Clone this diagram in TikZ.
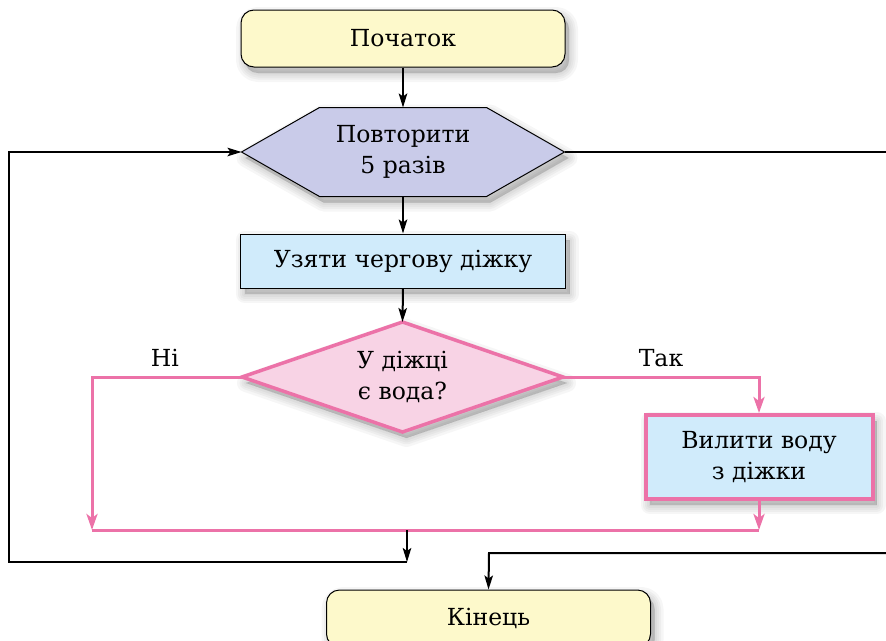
\documentclass[tikz,border=0pt]{standalone}
\usepackage{fontspec}
\setmainfont{DejaVu Serif}
\usetikzlibrary{arrows.meta}
\definecolor{cyellow}{HTML}{FDF9CB}
\definecolor{clav}{HTML}{C9CBE9}
\definecolor{cblue}{HTML}{D0EBFB}
\definecolor{cpinkfill}{HTML}{F8D3E5}
\definecolor{cpink}{HTML}{EC72A8}
\tikzset{
  txt/.style={font=\fontsize{23.5}{31}\selectfont, align=center},
  shl/.style={preaction={draw=black, fill=black, opacity=0.035, line width=#1, line join=round,
      transform canvas={shift={(4pt,-6pt)}}}},
  shad/.style={shl=18pt, shl=13pt, shl=9pt, shl=5pt, shl=1pt},
  term/.style={txt, draw=black, line width=1pt, fill=cyellow, rounded corners=13pt,
    minimum width=324pt, minimum height=57pt, inner sep=0pt, shad},
  ghost/.style={txt, inner sep=0pt, outer sep=0pt},
  proc/.style={txt, draw=black, line width=1pt, fill=cblue, minimum width=325pt,
    minimum height=54pt, inner sep=0pt, shad},
  pproc/.style={txt, draw=cpink, line width=4pt, fill=cblue, minimum width=227pt,
    minimum height=84pt, inner sep=0pt, outer sep=2pt, shad},
  blk/.style={draw=black, line width=2pt},
  pnk/.style={draw=cpink, line width=3pt},
  arr/.style={-{Stealth[length=14pt,width=8.5pt,inset=3pt]}},
  parr/.style={-{Stealth[length=16pt,width=11pt,inset=4pt]}},
  lbl/.style={font=\fontsize{23.5}{27}\selectfont}
}
\begin{document}
\begin{tikzpicture}[x=1pt,y=-1pt]
\useasboundingbox (0,0) rectangle (886,640);
\clip (0,0) rectangle (886,640);
% hexagon shape
\path[fill=clav, draw=black, line width=1pt, shad] (241.5,152) -- (319.5,107.5) -- (486.5,107.5) -- (564.5,152) -- (486.5,196.5) -- (319.5,196.5) -- cycle;
% diamond shape
\path[fill=cpinkfill, draw=cpink, line width=3.5pt, line join=miter, shad] (242,377) -- (402.5,322) -- (563,377) -- (402.5,432) -- cycle;
\node[term] (start) at (403,38.5) {Початок};
\node[ghost, minimum width=323pt, minimum height=89pt] (loop) at (403,152) {Повторити\\5 разів};
\node[proc] (take) at (403,261) {Узяти чергову діжку};
\node[ghost, minimum width=321pt, minimum height=110pt] (cond) at (402.5,377) {У діжці\\є вода?};
\node[pproc] (pour) at (759,457) {Вилити воду\\з діжки};
\node[term] (stop) at (488.5,618.5) {Кінець};
\node[lbl] (no) at (165,358) {Ні};
\node[lbl] (yes) at (661,358) {Так};
\coordinate (jl) at (92,530);
\coordinate (jr) at (759,530);
\coordinate (jm) at (407,530);
\coordinate (bk) at (407,562);
\coordinate (bl) at (9,562);
\coordinate (rr) at (890,553);
\coordinate (re) at (489,553);
% black flow
\draw[blk, arr] (start.south) -- (loop.north);
\draw[blk, arr] (loop.south) -- (take.north);
\draw[blk, arr] (take.south) -- (cond.north);
% pink branches
\draw[pnk, parr] (cond.west) -| (jl);
\draw[pnk, parr] (cond.east) -| (pour.north);
\draw[pnk, parr] (pour.south) -- (jr);
\draw[pnk] (jl) -- (jr);
% loop back
\draw[blk, arr] (jm) -- (bk);
\draw[blk, arr] (bk) -- (bl) |- (loop.west);
% exit
\draw[blk] (loop.east) -| (rr);
\draw[blk, arr] (rr) -- (re) -- (stop.north);
\end{tikzpicture}
\end{document}
